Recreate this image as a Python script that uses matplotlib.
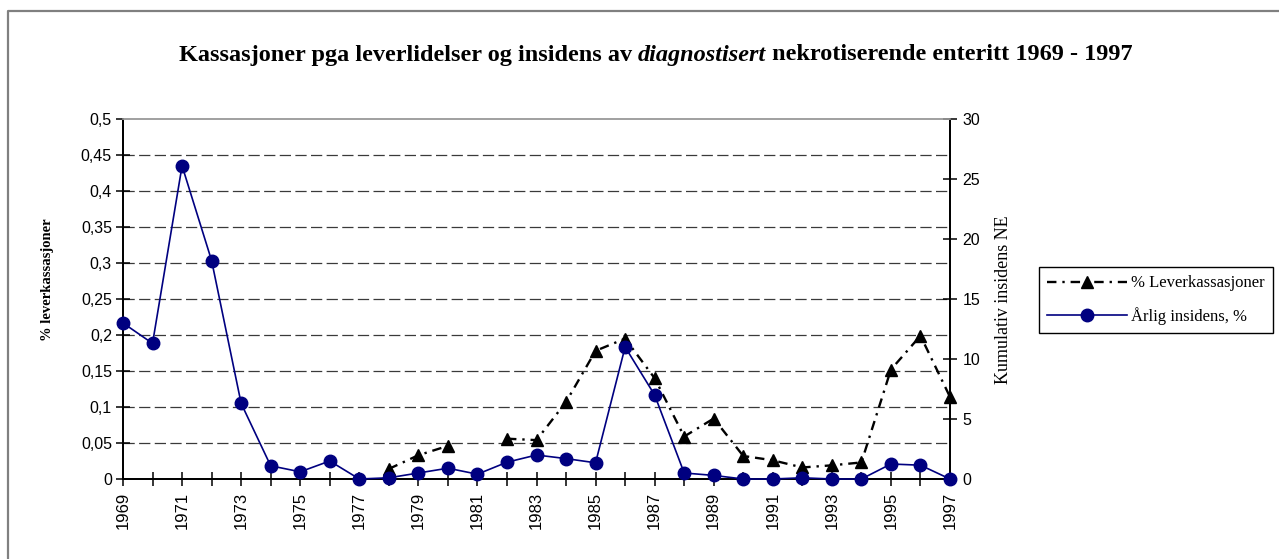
import matplotlib
matplotlib.use("Agg")
import matplotlib.pyplot as plt
from matplotlib.lines import Line2D
import numpy as np

nan = np.nan

# data
years = list(range(1969, 1998))
leverkass = [nan, nan, nan, nan, nan, nan, nan, nan, nan,
             0.014, 0.033, 0.046, nan, 0.056, 0.054, 0.107, 0.178, 0.195,
             0.140, 0.059, 0.084, 0.032, 0.026, 0.016, 0.019, 0.023,
             0.152, 0.199, 0.114]
insidens = [13.0, 11.3, 26.1, 18.2, 6.3, 1.1, 0.6, 1.5, 0.0, 0.1, 0.5, 0.9,
            0.4, 1.4, 2.0, 1.7, 1.35, 11.0, 7.0, 0.5, 0.3, 0.0, 0.0, 0.1,
            0.0, 0.0, 1.25, 1.15, 0.0]

left_ticks = [0, 0.05, 0.1, 0.15, 0.2, 0.25, 0.3, 0.35, 0.4, 0.45, 0.5]
left_labels = ["0", "0,05", "0,1", "0,15", "0,2", "0,25", "0,3", "0,35", "0,4", "0,45", "0,5"]
right_ticks = [0, 5, 10, 15, 20, 25, 30]
xlabel_years = list(range(1969, 1998, 2))

W, H = 1279, 559
SERIF = ["Liberation Serif", "DejaVu Serif"]
SANS = ["Liberation Sans", "DejaVu Sans"]

fig = plt.figure(figsize=(W / 100, H / 100), dpi=100)
fig.patch.set_facecolor("white")

# outer chart border (only left and top visible)
fig.add_artist(Line2D([8 / W, 8 / W, 1.0], [0.0, 1 - 11 / H, 1 - 11 / H],
                      transform=fig.transFigure, color="#808080", lw=1.6))

x0, x1, y0, y1 = 123, 950, 119, 479
ax = fig.add_axes([x0 / W, 1 - y1 / H, (x1 - x0) / W, (y1 - y0) / H])
ax2 = ax.twinx()

ax.set_xlim(1969, 1997)
ax.set_ylim(0, 0.5)
ax2.set_ylim(0, 30)

for y in left_ticks[1:-1]:
    ax.axhline(y, color="#3a3a3a", lw=0.9, linestyle=(0, (9, 3.5)), zorder=1)

for a in (ax, ax2):
    a.spines["top"].set_color("#a0a0a0")
    a.spines["top"].set_linewidth(1.2)
    a.spines["left"].set_linewidth(1.3)
    a.spines["right"].set_linewidth(1.3)
    a.spines["bottom"].set_linewidth(1.3)
    a.patch.set_alpha(0)

ax.set_yticks(left_ticks)
ax.set_yticklabels(left_labels)
ax2.set_yticks(right_ticks)
ax2.set_yticklabels([str(t) for t in right_ticks])
ax.set_xticks(years)
ax.set_xticklabels([str(y) if y in xlabel_years else "" for y in years], rotation=90)

ax.tick_params(axis="y", direction="inout", length=10, width=1.1, labelsize=11.5, pad=3)
ax.tick_params(axis="x", direction="inout", length=10, width=1.1, labelsize=12, pad=4)
ax2.tick_params(axis="y", direction="inout", length=10, width=1.1, labelsize=11.5, pad=4)
for lab in ax.get_xticklabels() + ax.get_yticklabels() + ax2.get_yticklabels():
    lab.set_family(SANS)

l1, = ax.plot(years, leverkass, color="black", lw=1.7, linestyle=(0, (4, 2.5, 1, 2.5)),
              marker="^", markersize=9, clip_on=False, zorder=3,
              label="% Leverkassasjoner")
l2, = ax2.plot(years, insidens, color="#000080", lw=1.2, marker="o", markersize=9,
               clip_on=False, zorder=4, label="Årlig insidens, %")

# axis titles
fig.text(47 / W, 1 - 280 / H, "% leverkassasjoner", rotation=90, ha="center", va="center",
         family=SERIF, fontweight="bold", fontsize=10.5)
fig.text(1004 / W, 1 - 300 / H, "Kumulativ insidens NE", rotation=90, ha="center", va="center",
         family=SERIF, fontsize=13)

# title with italic word
parts = [("Kassasjoner pga leverlidelser og insidens av ", "normal"),
         ("diagnostisert", "italic"),
         (" nekrotiserende enteritt 1969 - 1997", "normal")]
renderer = fig.canvas.get_renderer()
texts = []
total = 0
for s, st in parts:
    t = fig.text(0, 1 - 55 / H, s, family=SERIF, fontweight="bold", style=st,
                 fontsize=17.5, ha="left", va="center")
    w = t.get_window_extent(renderer).width
    texts.append((t, w))
    total += w
xs = 656 - total / 2
for t, w in texts:
    t.set_x(xs / W)
    xs += w

leg = fig.legend(handles=[l1, l2], loc="upper left",
                 bbox_to_anchor=(1039 / W, 1 - 267 / H), bbox_transform=fig.transFigure,
                 prop={"family": SERIF, "size": 12}, frameon=True, fancybox=False,
                 edgecolor="black", framealpha=1, borderpad=0.5, handlelength=4.8,
                 handletextpad=0.2, labelspacing=0.95, borderaxespad=0)
leg.get_frame().set_linewidth(1.0)

fig.savefig("out.png", dpi=100)
